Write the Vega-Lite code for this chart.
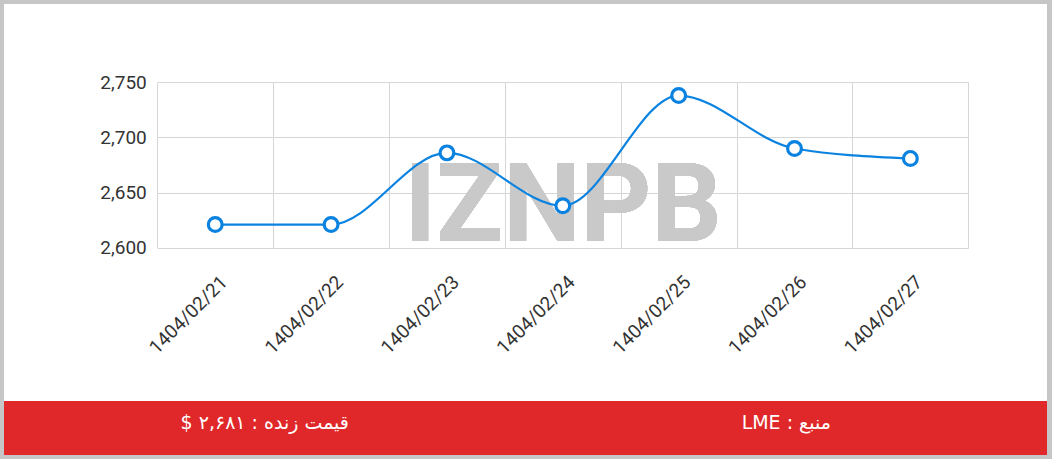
{
  "$schema": "https://vega.github.io/schema/vega-lite/v6.json",
  "background": "#c6c6c6",
  "padding": {"left": 4, "top": 4, "right": 5, "bottom": 4},
  "spacing": 0,
  "bounds": "flush",
  "config": {
    "view": {"stroke": null},
    "font": "Roboto",
    "concat": {"spacing": 0}
  },
  "vconcat": [
    {
      "width": 1043,
      "height": 397,
      "view": {"fill": "white", "stroke": null},
      "data": {
        "values": [
          {"date": "1404/02/21", "price": 2621},
          {"date": "1404/02/22", "price": 2621},
          {"date": "1404/02/23", "price": 2686},
          {"date": "1404/02/24", "price": 2638},
          {"date": "1404/02/25", "price": 2738},
          {"date": "1404/02/26", "price": 2690},
          {"date": "1404/02/27", "price": 2681}
        ]
      },
      "encoding": {
        "y": {
          "field": "price",
          "type": "quantitative",
          "scale": {"domain": [2600, 2750], "nice": false, "zero": false, "range": [243.7, 78.3]},
          "axis": {
            "title": null,
            "offset": -153.3,
            "values": [2600, 2650, 2700, 2750],
            "format": ",.0f",
            "grid": true,
            "gridColor": "#d6d6d6",
            "gridWidth": 1,
            "domain": false,
            "ticks": false,
            "labelPadding": 11,
            "labelFontSize": 19,
            "labelColor": "#333333",
            "labelFont": "Roboto"
          }
        }
      },
      "layer": [
        {
          "mark": {"type": "text", "text": "IZNPB", "font": "Roboto", "fontWeight": "bold", "fontSize": 110, "color": "#c9c9c9", "opacity": 0.9, "align": "center", "baseline": "alphabetic"},
          "encoding": {
            "x": {"datum": "1404/02/24", "type": "ordinal", "bandPosition": 0.5, "scale": {"type": "band", "range": [153.3, 964.3], "paddingInner": 0, "paddingOuter": 0}, "axis": null},
            "y": {"datum": 2606, "type": "quantitative"}
          }
        },
        {
          "mark": {"type": "line", "interpolate": "monotone", "color": "#0a82e0", "strokeWidth": 2.2},
          "encoding": {
            "x": {
              "field": "date",
              "type": "ordinal",
              "bandPosition": 0.5,
              "scale": {"type": "band", "range": [153.3, 964.3], "paddingInner": 0, "paddingOuter": 0},
              "axis": {
                "title": null,
                "orient": "top",
                "offset": -78.3,
                "tickBand": "extent",
                "grid": true,
                "gridColor": "#d6d6d6",
                "gridWidth": 1,
                "domain": false,
                "ticks": false,
                "labels": false
              }
            }
          }
        },
        {
          "mark": {"type": "point", "shape": "circle", "size": 190, "filled": true, "fill": "white", "stroke": "#0a82e0", "strokeWidth": 3.2, "opacity": 1},
          "encoding": {
            "x": {
              "field": "date",
              "type": "ordinal",
              "bandPosition": 0.5,
              "scale": {"type": "band", "range": [153.3, 964.3], "paddingInner": 0, "paddingOuter": 0},
              "axis": {
                "title": null,
                "orient": "bottom",
                "offset": -153.3,
                "grid": false,
                "domain": false,
                "ticks": false,
                "labelAngle": -45,
                "labelAlign": "right",
                "labelBaseline": "middle",
                "labelPadding": 31,
                "labelOffset": 9,
                "labelFontSize": 19,
                "labelColor": "#333333",
                "labelFont": "Roboto"
              }
            }
          }
        }
      ]
    },
    {
      "width": 1043,
      "height": 54,
      "view": {"fill": "#e0282a", "stroke": null},
      "data": {
        "values": [
          {"pos": "a", "label": "$ ۲,۶۸۱ : قیمت زنده"},
          {"pos": "b", "label": "LME : منبع"}
        ]
      },
      "mark": {"type": "text", "color": "white", "font": "DejaVu Sans", "fontSize": 19, "baseline": "middle", "dy": -5},
      "encoding": {
        "x": {"field": "pos", "type": "nominal", "bandPosition": 0.5, "scale": {"type": "band", "paddingInner": 0, "paddingOuter": 0}, "axis": null},
        "text": {"field": "label", "type": "nominal"}
      }
    }
  ]
}
